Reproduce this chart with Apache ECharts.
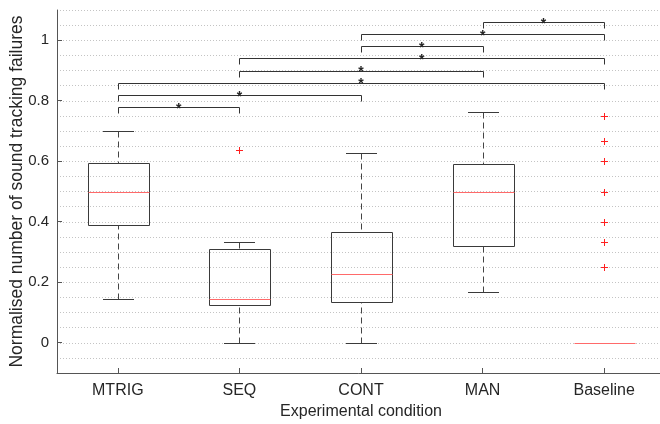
<!DOCTYPE html>
<html>
<head>
<meta charset="utf-8">
<script src="https://cdn.jsdelivr.net/npm/echarts@6/dist/echarts.min.js"></script>
<style>
html,body{margin:0;padding:0;background:#fff;}
#chart{width:660px;height:424px;}
</style>
</head>
<body>
<div id="chart"></div>
<script>
// ---- data ----
const categories = ['MTRIG', 'SEQ', 'CONT', 'MAN', 'Baseline'];
const whiskerLow  = [0.143, 0.000, 0.000, 0.167, 0.000];
const quartile1   = [0.389, 0.126, 0.135, 0.319, 0.000];
const medians     = [0.500, 0.143, 0.227, 0.500, 0.000];
const quartile3   = [0.593, 0.309, 0.366, 0.591, 0.000];
const whiskerHigh = [0.700, 0.334, 0.626, 0.764, 0.000];
const outliers = [[], [0.637], [], [], [0.750, 0.667, 0.600, 0.500, 0.400, 0.333, 0.250]];

// significance brackets (category index from, to, height)
const sigFrom  = [3, 2, 2, 1, 1, 0, 0, 0];
const sigTo    = [4, 4, 3, 4, 3, 4, 2, 1];
const sigLevel = [1.06, 1.02, 0.98, 0.94, 0.90, 0.86, 0.82, 0.78];
const sigMark  = ['*', '*', '*', '*', '*', '*', '*', '*'];

const yTickLabels = [0, 0.2, 0.4, 0.6, 0.8, 1];

// ---- build ----
const FONT = '"Liberation Sans", Arial, Helvetica, sans-serif';
const TEXT = '#262626';
const EDGE = '#3a3a3a';
const MED = '#ff6a6a';
const OUT = '#ff2020';

const boxData = categories.map((c, i) => [i, whiskerLow[i], quartile1[i], medians[i], quartile3[i], whiskerHigh[i]]);
const medianData = categories.map((c, i) => [i, medians[i]]);
const outlierData = [];
outliers.forEach((list, i) => list.forEach(v => outlierData.push([i, v])));
const sigData = sigFrom.map((f, i) => [f, sigTo[i], sigLevel[i]]);

const px = v => Math.round(v) + 0.5;

const chart = echarts.init(document.getElementById('chart'), null, {renderer: 'canvas'});

const TOP = 10, H = 363, YMIN = -0.1, YMAX = 1.1, LEFT = 57, W = 608;
const perUnit = H / (YMAX - YMIN);

chart.setOption({
  animation: false,
  backgroundColor: '#fff',
  textStyle: {fontFamily: FONT, color: TEXT},
  grid: [
    {left: LEFT, width: W, top: TOP, height: H, outerBoundsMode: 'none', containLabel: false},
    {left: LEFT, width: W, top: TOP + (YMAX - 1) * perUnit, height: perUnit, outerBoundsMode: 'none', containLabel: false}
  ],
  xAxis: [
    {
      type: 'category', gridIndex: 0, data: categories, boundaryGap: true,
      axisLine: {show: true, onZero: false, lineStyle: {color: '#555', width: 1}},
      axisTick: {show: true, inside: true, length: 5, alignWithLabel: true, lineStyle: {color: '#555'}},
      axisLabel: {show: true, margin: 10, fontSize: 16, color: TEXT, fontFamily: FONT},
      splitLine: {show: false},
      name: 'Experimental condition', nameLocation: 'middle', nameGap: 30,
      nameTextStyle: {fontSize: 16, color: TEXT, fontFamily: FONT}
    },
    {
      type: 'category', gridIndex: 1, data: categories, boundaryGap: true, show: false
    }
  ],
  yAxis: [
    {
      type: 'value', gridIndex: 0, min: YMIN, max: YMAX, interval: 0.05,
      axisLine: {show: true, onZero: false, lineStyle: {color: '#555', width: 1}},
      axisTick: {show: false},
      axisLabel: {show: false},
      splitLine: {show: true, lineStyle: {color: '#c4c4c4', type: [1, 2], width: 1}},
      name: 'Normalised number of sound tracking failures', nameLocation: 'middle', nameGap: 31,
      nameRotate: 90,
      nameTextStyle: {fontSize: 17.5, color: TEXT, fontFamily: FONT}
    },
    {
      type: 'value', gridIndex: 1, min: 0, max: 1, interval: 0.2,
      axisLine: {show: false},
      axisTick: {show: true, inside: true, length: 5, lineStyle: {color: '#555'}},
      axisLabel: {show: true, margin: 8, fontSize: 15, color: TEXT, fontFamily: FONT,
        formatter: v => {
          const hit = yTickLabels.find(t => Math.abs(t - v) < 1e-9);
          return hit === undefined ? '' : String(hit);
        }},
      splitLine: {show: false}
    }
  ],
  series: [
    {
      type: 'custom', name: 'significance', xAxisIndex: 0, yAxisIndex: 0,
      data: sigData, encode: {x: [0, 1], y: 2}, z: 3,
      renderItem: (params, api) => {
        const f = api.value(0), t = api.value(1), lv = api.value(2);
        const drop = 0.02;
        const a = api.coord([f, lv]), b = api.coord([t, lv]);
        const a2 = api.coord([f, lv - drop]);
        const x1 = px(a[0]), x2 = px(b[0]), y = px(a[1]), y2 = px(a2[1]);
        const mark = sigMark[params.dataIndex];
        return {
          type: 'group',
          children: [
            {type: 'polyline', shape: {points: [[x1, y2], [x1, y], [x2, y], [x2, y2]]},
             style: {stroke: '#333', lineWidth: 1, fill: null}},
            {type: 'text', x: (a[0] + b[0]) / 2, y: a[1] + 2,
             style: {text: mark, fill: TEXT, font: 'bold 14px ' + FONT, textAlign: 'center', textVerticalAlign: 'middle'}}
          ]
        };
      }
    },
    {
      type: 'custom', name: 'boxes', xAxisIndex: 0, yAxisIndex: 0,
      data: boxData, encode: {x: 0, y: [1, 2, 3, 4, 5]}, z: 4,
      renderItem: (params, api) => {
        const i = api.value(0);
        const band = api.size([1, 0])[0];
        const half = band * 0.25, cap = band * 0.125;
        const cx = px(api.coord([i, 0])[0]);
        const yLow = px(api.coord([i, api.value(1)])[1]);
        const yQ1 = px(api.coord([i, api.value(2)])[1]);
        const yQ3 = px(api.coord([i, api.value(4)])[1]);
        const yHigh = px(api.coord([i, api.value(5)])[1]);
        const l = Math.round(cx - half) + 0.5, r = Math.round(cx + half) + 0.5;
        const cl = Math.round(cx - cap), cr = Math.round(cx + cap);
        const dash = {stroke: '#444', lineWidth: 1, lineDash: [6, 4], fill: null};
        const solid = {stroke: EDGE, lineWidth: 1, fill: null};
        const children = [];
        if (yQ1 !== yQ3) {
          children.push(
            {type: 'line', shape: {x1: l, y1: yQ3, x2: r, y2: yQ3}, style: solid},
            {type: 'line', shape: {x1: l, y1: yQ1, x2: r, y2: yQ1}, style: solid},
            {type: 'line', shape: {x1: l, y1: yQ3, x2: l, y2: yQ1}, style: solid},
            {type: 'line', shape: {x1: r, y1: yQ3, x2: r, y2: yQ1}, style: solid}
          );
        }
        if (yHigh !== yQ3) {
          children.push(
            {type: 'line', shape: {x1: cx, y1: yHigh, x2: cx, y2: yQ3}, style: dash},
            {type: 'line', shape: {x1: cl, y1: yHigh, x2: cr, y2: yHigh}, style: solid}
          );
        }
        if (yLow !== yQ1) {
          children.push(
            {type: 'line', shape: {x1: cx, y1: yLow, x2: cx, y2: yQ1}, style: dash},
            {type: 'line', shape: {x1: cl, y1: yLow, x2: cr, y2: yLow}, style: solid}
          );
        }
        return {type: 'group', children: children};
      }
    },
    {
      type: 'custom', name: 'medians', xAxisIndex: 0, yAxisIndex: 0,
      data: medianData, encode: {x: 0, y: 1}, z: 6,
      renderItem: (params, api) => {
        const i = api.value(0);
        const band = api.size([1, 0])[0];
        const half = band * 0.25;
        const cx = px(api.coord([i, 0])[0]);
        const y = px(api.coord([i, api.value(1)])[1]);
        const l = Math.round(cx - half) + 0.5, r = Math.round(cx + half) + 0.5;
        return {type: 'line', shape: {x1: l, y1: y, x2: r, y2: y}, style: {stroke: MED, lineWidth: 1, fill: null}};
      }
    },
    {
      type: 'custom', name: 'outliers', xAxisIndex: 0, yAxisIndex: 0,
      data: outlierData, encode: {x: 0, y: 1}, z: 5,
      renderItem: (params, api) => {
        const p = api.coord([api.value(0), api.value(1)]);
        const x = px(p[0]), y = px(p[1]), s = 3.5;
        return {
          type: 'group',
          children: [
            {type: 'line', shape: {x1: x - s, y1: y, x2: x + s, y2: y}, style: {stroke: OUT, lineWidth: 1}},
            {type: 'line', shape: {x1: x, y1: y - s, x2: x, y2: y + s}, style: {stroke: OUT, lineWidth: 1}}
          ]
        };
      }
    }
  ]
});
</script>
</body>
</html>
